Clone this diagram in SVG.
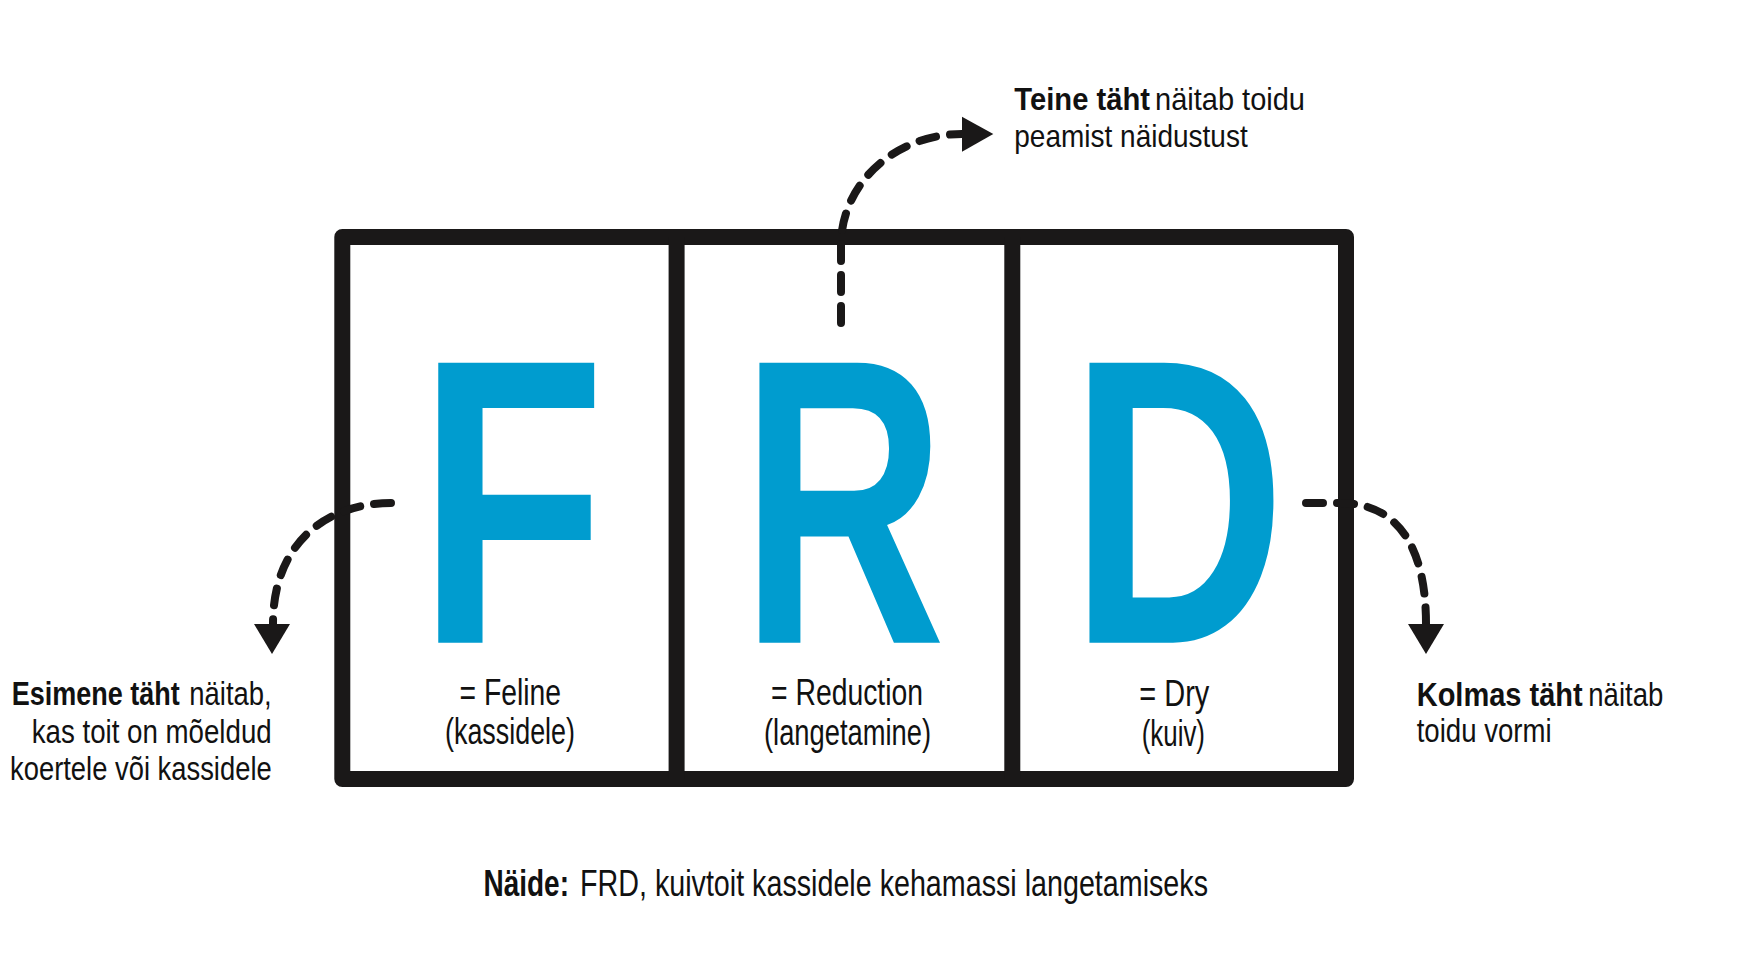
<svg xmlns="http://www.w3.org/2000/svg" width="1756" height="959" viewBox="0 0 1756 959">
<defs>
<style>
.bg{fill:#ffffff}
.frame{fill:none;stroke:#1a1818;stroke-width:16;stroke-linejoin:round}
.div{stroke:#1a1818;stroke-width:16}
.big{font-family:"Liberation Sans",Arial,sans-serif;font-weight:bold;font-size:407px;fill:#009ccf}
.t{font-family:"Liberation Sans",Arial,sans-serif;fill:#111111}
.lab{font-size:36px}
.side{font-size:34px}
.top{font-size:32px}
.b{font-weight:bold}
.dash{fill:none;stroke:#1a1818;stroke-width:8;stroke-linecap:round;stroke-dasharray:17 14}
.head{fill:#1a1818}
</style>
</defs>
<rect class="bg" x="0" y="0" width="1756" height="959"/>

<g id="frame">
<rect class="frame" x="342.3" y="237" width="1003.7" height="542"/>
<line class="div" x1="676.6" y1="237" x2="676.6" y2="779"/>
<line class="div" x1="1012.3" y1="237" x2="1012.3" y2="779"/>
</g>

<g id="node-F">
<text class="big" transform="translate(417.7,642.7) scale(0.755,1)">F</text>
<text class="t lab" x="459.5" y="704.5" textLength="101.5" lengthAdjust="spacingAndGlyphs">= Feline</text>
<text class="t lab" x="445" y="743.5" textLength="130" lengthAdjust="spacingAndGlyphs">(kassidele)</text>
</g>

<g id="node-R">
<text class="big" transform="translate(740.4,642.7) scale(0.699,1)">R</text>
<text class="t lab" x="771" y="705" textLength="152" lengthAdjust="spacingAndGlyphs">= Reduction</text>
<text class="t lab" x="764" y="745" textLength="167" lengthAdjust="spacingAndGlyphs">(langetamine)</text>
</g>

<g id="node-D">
<text class="big" transform="translate(1069.4,642.7) scale(0.737,1)">D</text>
<text class="t lab" x="1139.3" y="706" textLength="70" lengthAdjust="spacingAndGlyphs">= Dry</text>
<text class="t lab" x="1141.7" y="745.5" textLength="63.3" lengthAdjust="spacingAndGlyphs">(kuiv)</text>
</g>

<g id="connectors">
<path class="dash" d="M841,323 L841,245 A121,111 0 0 1 962,134"/>
<polygon class="head" points="962,116.7 962,151.7 993.3,134"/>
<path class="dash" d="M391,503 C330,503 273,540 273,624"/>
<polygon class="head" points="254,624 290,624 272,654"/>
<path class="dash" d="M1306,503 L1340,503 C1400,503 1426,550 1426,624"/>
<polygon class="head" points="1408,624 1444,624 1426,654"/>
</g>

<g id="label-top">
<text class="t top b" x="1014.3" y="110" textLength="135.7" lengthAdjust="spacingAndGlyphs">Teine täht</text>
<text class="t top" x="1155" y="110" textLength="150" lengthAdjust="spacingAndGlyphs">näitab toidu</text>
<text class="t top" x="1014.3" y="147.3" textLength="233.4" lengthAdjust="spacingAndGlyphs">peamist näidustust</text>
</g>

<g id="label-left">
<text class="t side b" x="11.7" y="705" textLength="168" lengthAdjust="spacingAndGlyphs">Esimene täht</text>
<text class="t side" x="189.3" y="705" textLength="82.4" lengthAdjust="spacingAndGlyphs">näitab,</text>
<text class="t side" x="31.7" y="743" textLength="240" lengthAdjust="spacingAndGlyphs">kas toit on mõeldud</text>
<text class="t side" x="10" y="780" textLength="261.7" lengthAdjust="spacingAndGlyphs">koertele või kassidele</text>
</g>

<g id="label-right">
<text class="t side b" x="1416.7" y="705.5" textLength="166" lengthAdjust="spacingAndGlyphs">Kolmas täht</text>
<text class="t side" x="1588.3" y="705.5" textLength="75" lengthAdjust="spacingAndGlyphs">näitab</text>
<text class="t side" x="1416.7" y="742" textLength="135" lengthAdjust="spacingAndGlyphs">toidu vormi</text>
</g>

<g id="label-bottom">
<text class="t lab b" x="483.5" y="896" textLength="85.5" lengthAdjust="spacingAndGlyphs">Näide:</text>
<text class="t lab" x="580" y="896" textLength="628" lengthAdjust="spacingAndGlyphs">FRD, kuivtoit kassidele kehamassi langetamiseks</text>
</g>
</svg>
